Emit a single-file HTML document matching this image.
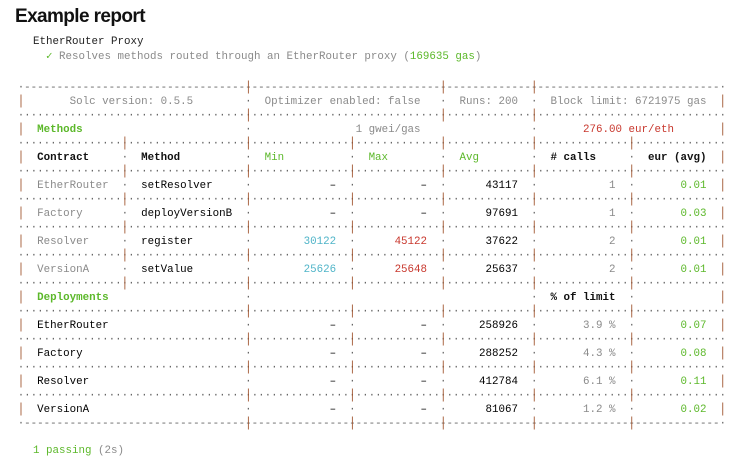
<!DOCTYPE html>
<html><head><meta charset="utf-8"><style>
body{margin:0;background:#fff;width:748px;height:466px;overflow:hidden;position:relative}
.t{position:absolute;left:15px;top:6px;font:bold 19px "Liberation Sans",sans-serif;color:#111;letter-spacing:-0.6px}
.m{font-family:"Liberation Mono",monospace;font-size:10.83px;}
.p{position:absolute;white-space:pre;line-height:14px;height:14px;color:#222}
.l{position:absolute;left:17.7px;height:14px;line-height:14px;white-space:pre;width:720px}
.l span{position:absolute;top:0}
.b{color:#a0552f}.l span.b{transform:scaleY(1.3)}
.g{color:#5cb82a}.r{color:#c8372d}.c{color:#4fb4c8}.k{color:#8a8a8a}.d{color:#666}.x{font-weight:bold;color:#111}
</style></head><body>
<div class="t">Example report</div>
<div class="m p" style="left:33px;top:35px">EtherRouter Proxy</div>
<div class="m p" style="left:46px;top:50px"><span class="g">✓</span> <span class="k">Resolves methods routed through an EtherRouter proxy (</span><span class="g">169635 gas</span><span class="k">)</span></div>

<div class="m" style="position:absolute;left:0;top:0">
<div class="l d" style="top:81px"><span style="left:0">·-----------------------------------------------------------------------------------------------------------·</span><span class="b" style="left:35ch">|</span><span class="b" style="left:65ch">|</span><span class="b" style="left:79ch">|</span></div>
<div class="l k" style="top:95px"><span class="b" style="left:0">|</span><span style="left:8ch">Solc version: 0.5.5</span><span class="d" style="left:35ch">·</span><span style="left:38ch">Optimizer enabled: false</span><span class="d" style="left:65ch">·</span><span style="left:68ch">Runs: 200</span><span class="d" style="left:79ch">·</span><span style="left:82ch">Block limit: 6721975 gas</span><span class="b" style="left:108ch">|</span></div>
<div class="l d" style="top:109px"><span style="left:0">·············································································································</span><span class="b" style="left:35ch">|</span><span class="b" style="left:65ch">|</span><span class="b" style="left:79ch">|</span></div>
<div class="l k" style="top:123px"><span class="b" style="left:0">|</span><span class="g x" style="left:3ch;color:#5cb82a">Methods</span><span class="d" style="left:35ch">·</span><span style="left:52ch">1 gwei/gas</span><span class="d" style="left:79ch">·</span><span class="r" style="left:87ch">276.00 eur/eth</span><span class="b" style="left:108ch">|</span></div>
<div class="l d" style="top:137px"><span style="left:0">·············································································································</span><span class="b" style="left:16ch">|</span><span class="b" style="left:35ch">|</span><span class="b" style="left:51ch">|</span><span class="b" style="left:65ch">|</span><span class="b" style="left:79ch">|</span><span class="b" style="left:94ch">|</span></div>
<div class="l" style="top:151px"><span class="b" style="left:0">|</span><span class="x" style="left:3ch">Contract</span><span class="d" style="left:16ch">·</span><span class="x" style="left:19ch">Method</span><span class="d" style="left:35ch">·</span><span class="g" style="left:38ch">Min</span><span class="d" style="left:51ch">·</span><span class="g" style="left:54ch">Max</span><span class="d" style="left:65ch">·</span><span class="g" style="left:68ch">Avg</span><span class="d" style="left:79ch">·</span><span class="x" style="left:82ch"># calls</span><span class="d" style="left:94ch">·</span><span class="x" style="left:97ch">eur (avg)</span><span class="b" style="left:108ch">|</span></div>
<div class="l d" style="top:165px"><span style="left:0">·············································································································</span><span class="b" style="left:16ch">|</span><span class="b" style="left:35ch">|</span><span class="b" style="left:51ch">|</span><span class="b" style="left:65ch">|</span><span class="b" style="left:79ch">|</span><span class="b" style="left:94ch">|</span></div>
<div class="l" style="top:179px"><span class="b" style="left:0">|</span><span class="k" style="left:3ch">EtherRouter</span><span class="d" style="left:16ch">·</span><span style="left:19ch">setResolver</span><span class="d" style="left:35ch">·</span><span style="left:48ch">–</span><span class="d" style="left:51ch">·</span><span style="left:62ch">–</span><span class="d" style="left:65ch">·</span><span style="left:72ch">43117</span><span class="d" style="left:79ch">·</span><span class="k" style="left:91ch">1</span><span class="d" style="left:94ch">·</span><span class="g" style="left:102ch">0.01</span><span class="b" style="left:108ch">|</span></div>
<div class="l d" style="top:193px"><span style="left:0">·············································································································</span><span class="b" style="left:16ch">|</span><span class="b" style="left:35ch">|</span><span class="b" style="left:51ch">|</span><span class="b" style="left:65ch">|</span><span class="b" style="left:79ch">|</span><span class="b" style="left:94ch">|</span></div>
<div class="l" style="top:207px"><span class="b" style="left:0">|</span><span class="k" style="left:3ch">Factory</span><span class="d" style="left:16ch">·</span><span style="left:19ch">deployVersionB</span><span class="d" style="left:35ch">·</span><span style="left:48ch">–</span><span class="d" style="left:51ch">·</span><span style="left:62ch">–</span><span class="d" style="left:65ch">·</span><span style="left:72ch">97691</span><span class="d" style="left:79ch">·</span><span class="k" style="left:91ch">1</span><span class="d" style="left:94ch">·</span><span class="g" style="left:102ch">0.03</span><span class="b" style="left:108ch">|</span></div>
<div class="l d" style="top:221px"><span style="left:0">·············································································································</span><span class="b" style="left:16ch">|</span><span class="b" style="left:35ch">|</span><span class="b" style="left:51ch">|</span><span class="b" style="left:65ch">|</span><span class="b" style="left:79ch">|</span><span class="b" style="left:94ch">|</span></div>
<div class="l" style="top:235px"><span class="b" style="left:0">|</span><span class="k" style="left:3ch">Resolver</span><span class="d" style="left:16ch">·</span><span style="left:19ch">register</span><span class="d" style="left:35ch">·</span><span class="c" style="left:44ch">30122</span><span class="d" style="left:51ch">·</span><span class="r" style="left:58ch">45122</span><span class="d" style="left:65ch">·</span><span style="left:72ch">37622</span><span class="d" style="left:79ch">·</span><span class="k" style="left:91ch">2</span><span class="d" style="left:94ch">·</span><span class="g" style="left:102ch">0.01</span><span class="b" style="left:108ch">|</span></div>
<div class="l d" style="top:249px"><span style="left:0">·············································································································</span><span class="b" style="left:16ch">|</span><span class="b" style="left:35ch">|</span><span class="b" style="left:51ch">|</span><span class="b" style="left:65ch">|</span><span class="b" style="left:79ch">|</span><span class="b" style="left:94ch">|</span></div>
<div class="l" style="top:263px"><span class="b" style="left:0">|</span><span class="k" style="left:3ch">VersionA</span><span class="d" style="left:16ch">·</span><span style="left:19ch">setValue</span><span class="d" style="left:35ch">·</span><span class="c" style="left:44ch">25626</span><span class="d" style="left:51ch">·</span><span class="r" style="left:58ch">25648</span><span class="d" style="left:65ch">·</span><span style="left:72ch">25637</span><span class="d" style="left:79ch">·</span><span class="k" style="left:91ch">2</span><span class="d" style="left:94ch">·</span><span class="g" style="left:102ch">0.01</span><span class="b" style="left:108ch">|</span></div>
<div class="l d" style="top:277px"><span style="left:0">·············································································································</span><span class="b" style="left:16ch">|</span><span class="b" style="left:35ch">|</span><span class="b" style="left:51ch">|</span><span class="b" style="left:65ch">|</span><span class="b" style="left:79ch">|</span><span class="b" style="left:94ch">|</span></div>
<div class="l" style="top:291px"><span class="b" style="left:0">|</span><span class="x" style="left:3ch;color:#5cb82a">Deployments</span><span class="d" style="left:35ch">·</span><span class="d" style="left:79ch">·</span><span class="x" style="left:82ch">% of limit</span><span class="d" style="left:94ch">·</span><span class="b" style="left:108ch">|</span></div>
<div class="l d" style="top:305px"><span style="left:0">·············································································································</span><span class="b" style="left:35ch">|</span><span class="b" style="left:51ch">|</span><span class="b" style="left:65ch">|</span><span class="b" style="left:79ch">|</span><span class="b" style="left:94ch">|</span></div>
<div class="l" style="top:319px"><span class="b" style="left:0">|</span><span style="left:3ch">EtherRouter</span><span class="d" style="left:35ch">·</span><span style="left:48ch">–</span><span class="d" style="left:51ch">·</span><span style="left:62ch">–</span><span class="d" style="left:65ch">·</span><span style="left:71ch">258926</span><span class="d" style="left:79ch">·</span><span class="k" style="left:87ch">3.9 %</span><span class="d" style="left:94ch">·</span><span class="g" style="left:102ch">0.07</span><span class="b" style="left:108ch">|</span></div>
<div class="l d" style="top:333px"><span style="left:0">·············································································································</span><span class="b" style="left:35ch">|</span><span class="b" style="left:51ch">|</span><span class="b" style="left:65ch">|</span><span class="b" style="left:79ch">|</span><span class="b" style="left:94ch">|</span></div>
<div class="l" style="top:347px"><span class="b" style="left:0">|</span><span style="left:3ch">Factory</span><span class="d" style="left:35ch">·</span><span style="left:48ch">–</span><span class="d" style="left:51ch">·</span><span style="left:62ch">–</span><span class="d" style="left:65ch">·</span><span style="left:71ch">288252</span><span class="d" style="left:79ch">·</span><span class="k" style="left:87ch">4.3 %</span><span class="d" style="left:94ch">·</span><span class="g" style="left:102ch">0.08</span><span class="b" style="left:108ch">|</span></div>
<div class="l d" style="top:361px"><span style="left:0">·············································································································</span><span class="b" style="left:35ch">|</span><span class="b" style="left:51ch">|</span><span class="b" style="left:65ch">|</span><span class="b" style="left:79ch">|</span><span class="b" style="left:94ch">|</span></div>
<div class="l" style="top:375px"><span class="b" style="left:0">|</span><span style="left:3ch">Resolver</span><span class="d" style="left:35ch">·</span><span style="left:48ch">–</span><span class="d" style="left:51ch">·</span><span style="left:62ch">–</span><span class="d" style="left:65ch">·</span><span style="left:71ch">412784</span><span class="d" style="left:79ch">·</span><span class="k" style="left:87ch">6.1 %</span><span class="d" style="left:94ch">·</span><span class="g" style="left:102ch">0.11</span><span class="b" style="left:108ch">|</span></div>
<div class="l d" style="top:389px"><span style="left:0">·············································································································</span><span class="b" style="left:35ch">|</span><span class="b" style="left:51ch">|</span><span class="b" style="left:65ch">|</span><span class="b" style="left:79ch">|</span><span class="b" style="left:94ch">|</span></div>
<div class="l" style="top:403px"><span class="b" style="left:0">|</span><span style="left:3ch">VersionA</span><span class="d" style="left:35ch">·</span><span style="left:48ch">–</span><span class="d" style="left:51ch">·</span><span style="left:62ch">–</span><span class="d" style="left:65ch">·</span><span style="left:72ch">81067</span><span class="d" style="left:79ch">·</span><span class="k" style="left:87ch">1.2 %</span><span class="d" style="left:94ch">·</span><span class="g" style="left:102ch">0.02</span><span class="b" style="left:108ch">|</span></div>
<div class="l d" style="top:417px"><span style="left:0">·-----------------------------------------------------------------------------------------------------------·</span><span class="b" style="left:35ch">|</span><span class="b" style="left:51ch">|</span><span class="b" style="left:65ch">|</span><span class="b" style="left:79ch">|</span><span class="b" style="left:94ch">|</span></div>
</div>

<div class="m p" style="left:33px;top:444px"><span class="g">1 passing</span> <span class="k">(2s)</span></div>
</body></html>
